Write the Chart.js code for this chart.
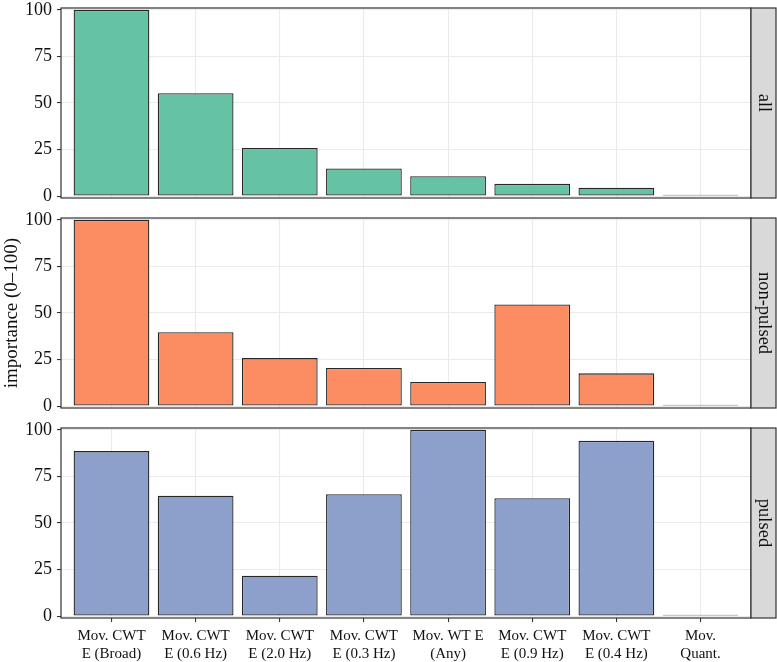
<!DOCTYPE html>
<html>
<head>
<meta charset="utf-8">
<script src="https://cdn.jsdelivr.net/npm/chart.js@4"></script>
<style>
  html, body { margin: 0; padding: 0; background: #ffffff; }
  #container { position: relative; width: 777px; height: 662px; overflow: hidden; }
  #container canvas { position: absolute; left: 0; }
</style>
</head>
<body>
<div id="container">
  <canvas id="chartAll" width="777" height="230" style="top:-12px"></canvas>
  <canvas id="chartNonPulsed" width="777" height="230" style="top:198px"></canvas>
  <canvas id="chartPulsed" width="777" height="254" style="top:408px"></canvas>
</div>
<script>
// các nhãn danh mục (hai dòng mỗi nhãn)
const categories = [
    ['Mov. CWT', 'E (Broad)'],
    ['Mov. CWT', 'E (0.6 Hz)'],
    ['Mov. CWT', 'E (2.0 Hz)'],
    ['Mov. CWT', 'E (0.3 Hz)'],
    ['Mov. WT E', '(Any)'],
    ['Mov. CWT', 'E (0.9 Hz)'],
    ['Mov. CWT', 'E (0.4 Hz)'],
    ['Mov.', 'Quant.']
];
const facetLabels = ['all', 'non-pulsed', 'pulsed'];
const allValues = [100, 55.3, 25.9, 14.8, 10.7, 6.6, 4.5, 0.8];
const nonPulsedValues = [100, 39.7, 25.8, 20.5, 13.0, 54.6, 17.6, 0.8];
const pulsedValues = [88.6, 64.6, 21.7, 65.5, 100, 63.3, 94.1, 0.8];
const yTicks = [0, 25, 50, 75, 100];
const yMinorTicks = [12.5, 37.5, 62.5, 87.5];
const barColors = ['#66c2a5', '#fc8d62', '#8da0cb'];
const yTitle = 'importance (0\u2013100)';

const FAMILY = "'Liberation Serif', 'DejaVu Serif', serif";
const TEXT_COLOR = '#111111';

/**
 * Vẽ khung panel và dải nhãn bên phải
 */
const facetPlugin = {
    id: 'facet',
    afterDatasetsDraw(chart, args, opts) {
        const { ctx, chartArea: a } = chart;
        const h = a.bottom - a.top;
        ctx.save();
        ctx.lineWidth = 1.2;
        ctx.strokeStyle = '#333333';
        ctx.strokeRect(a.left, a.top, a.right - a.left, h);
        ctx.fillStyle = '#d9d9d9';
        ctx.fillRect(a.right, a.top, 25, h);
        ctx.strokeRect(a.right, a.top, 25, h);
        ctx.translate(a.right + 12.5, a.top + h / 2);
        ctx.rotate(Math.PI / 2);
        ctx.fillStyle = TEXT_COLOR;
        ctx.font = '18.5px ' + FAMILY;
        ctx.textAlign = 'center';
        ctx.textBaseline = 'middle';
        ctx.fillText(opts.label, 0, 0);
        ctx.restore();
    }
};

function createPanel(id, values, color, label, isBottom, showTitle) {
    const DATA = {
        datasets: [{
            data: values.map((v, i) => ({ x: i, y: v })),
            backgroundColor: color,
            borderColor: '#262626',
            borderWidth: 1.3,
            borderSkipped: false,
            barPercentage: 0.9,
            categoryPercentage: 1
        }]
    };
    const CONFIG = {
        type: 'bar',
        data: DATA,
        options: {
            responsive: false,
            animation: false,
            events: [],
            layout: { padding: { top: 20, bottom: isBottom ? 0 : 20, left: 0, right: 26 } },
            plugins: {
                legend: { display: false },
                tooltip: { enabled: false },
                facet: { label: label }
            },
            scales: {
                x: {
                    type: 'linear',
                    bounds: 'data',
                    min: -0.6,
                    max: 7.6,
                    offset: false,
                    afterBuildTicks: s => { s.ticks = categories.map((c, i) => ({ value: i })); },
                    afterFit: s => { s.height = isBottom ? 44 : 0; },
                    grid: {
                        offset: false,
                        color: '#ebebeb',
                        lineWidth: 1.1,
                        drawTicks: isBottom,
                        tickLength: 4,
                        tickColor: '#333333',
                        tickWidth: 1.1
                    },
                    border: { display: false },
                    ticks: {
                        display: isBottom,
                        autoSkip: false,
                        maxRotation: 0,
                        padding: 5,
                        font: { family: FAMILY, size: 15, lineHeight: 1.22 },
                        color: TEXT_COLOR,
                        callback: v => categories[v]
                    }
                },
                y: {
                    min: -1,
                    max: 101,
                    afterBuildTicks: s => {
                        s.ticks = yTicks.concat(yMinorTicks).sort((a, b) => a - b).map(v => ({ value: v }));
                    },
                    afterFit: s => { s.width = 61; },
                    grid: {
                        color: c => yTicks.includes(c.tick.value) ? '#ebebeb' : '#f4f4f4',
                        lineWidth: c => yTicks.includes(c.tick.value) ? 1.1 : 0.6,
                        tickLength: 4,
                        tickColor: c => yTicks.includes(c.tick.value) ? '#333333' : 'rgba(0,0,0,0)',
                        tickWidth: 1.1
                    },
                    border: { display: false },
                    title: {
                        display: showTitle,
                        text: yTitle,
                        font: { family: FAMILY, size: 19 },
                        color: TEXT_COLOR,
                        padding: { top: 1, bottom: 0 }
                    },
                    ticks: {
                        padding: 5,
                        font: { family: FAMILY, size: 18 },
                        color: TEXT_COLOR,
                        callback: v => yTicks.includes(v) ? String(v) : ''
                    }
                }
            }
        },
        plugins: [facetPlugin]
    };
    return new Chart(document.getElementById(id), CONFIG);
}

createPanel('chartAll', allValues, barColors[0], facetLabels[0], false, false);
createPanel('chartNonPulsed', nonPulsedValues, barColors[1], facetLabels[1], false, true);
createPanel('chartPulsed', pulsedValues, barColors[2], facetLabels[2], true, false);
</script>
</body>
</html>
